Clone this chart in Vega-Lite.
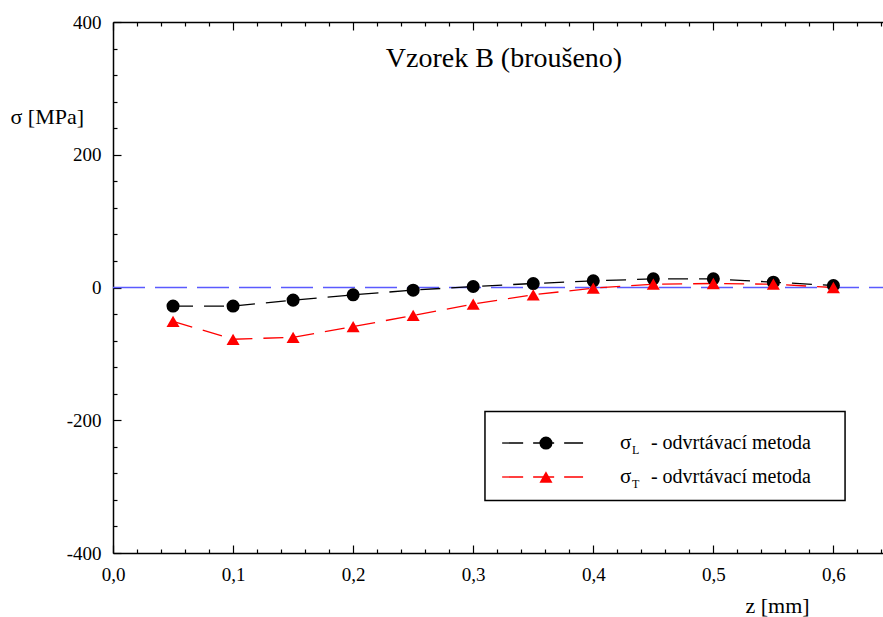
{
  "$schema": "https://vega.github.io/schema/vega-lite/v6.json",
  "width": 770,
  "height": 531,
  "autosize": {"type": "none"},
  "padding": {"left": 113, "top": 22, "right": 0, "bottom": 64},
  "background": "white",
  "config": {"view": {"stroke": null}, "font": "'Liberation Serif', 'Times New Roman', Times, serif"},
  "datasets": {
    "series": [
      {"z": 0.05, "sigma": -28, "series": "L"},
      {"z": 0.1, "sigma": -28, "series": "L"},
      {"z": 0.15, "sigma": -19, "series": "L"},
      {"z": 0.2, "sigma": -11, "series": "L"},
      {"z": 0.25, "sigma": -4, "series": "L"},
      {"z": 0.3, "sigma": 1.5, "series": "L"},
      {"z": 0.35, "sigma": 6, "series": "L"},
      {"z": 0.4, "sigma": 10, "series": "L"},
      {"z": 0.45, "sigma": 13, "series": "L"},
      {"z": 0.5, "sigma": 13, "series": "L"},
      {"z": 0.55, "sigma": 8, "series": "L"},
      {"z": 0.6, "sigma": 3, "series": "L"},
      {"z": 0.05, "sigma": -51, "series": "T"},
      {"z": 0.1, "sigma": -78, "series": "T"},
      {"z": 0.15, "sigma": -75, "series": "T"},
      {"z": 0.2, "sigma": -59, "series": "T"},
      {"z": 0.25, "sigma": -42, "series": "T"},
      {"z": 0.3, "sigma": -25, "series": "T"},
      {"z": 0.35, "sigma": -11, "series": "T"},
      {"z": 0.4, "sigma": -1, "series": "T"},
      {"z": 0.45, "sigma": 5, "series": "T"},
      {"z": 0.5, "sigma": 6, "series": "T"},
      {"z": 0.55, "sigma": 5, "series": "T"},
      {"z": 0.6, "sigma": 0, "series": "T"}
    ]
  },
  "data": {"values": [{"k": 1}]},
  "resolve": {"scale": {"x": "independent", "y": "independent"}},
  "layer": [
    {
      "mark": {"type": "rule", "color": "#5a5aff", "strokeDash": [32, 10], "strokeWidth": 1.5},
      "encoding": {
        "x": {
          "datum": 0, "type": "quantitative",
          "scale": {"domain": [0, 0.6413], "nice": false, "zero": false},
          "axis": {
            "orient": "top",
            "values": [0,0.02,0.04,0.06,0.08,0.1,0.12,0.14,0.16,0.18,0.2,0.22,0.24,0.26,0.28,0.3,0.32,0.34,0.36,0.38,0.4,0.42,0.44,0.46,0.48,0.5,0.52,0.54,0.56,0.58,0.6,0.62,0.64],
            "labels": false, "title": null, "grid": false,
            "domainColor": "black", "domainWidth": 1.5,
            "tickColor": "black", "tickWidth": 1.2,
            "tickSize": {"condition": {"test": "abs(datum.value*10-round(datum.value*10))<0.001", "value": -8}, "value": -4}
          }
        },
        "x2": {"datum": 0.6413},
        "y": {"datum": 0, "type": "quantitative", "scale": {"domain": [-400, 400], "nice": false}, "axis": null}
      }
    },
    {
      "encoding": {
        "x": {
          "type": "quantitative",
          "scale": {"domain": [0, 0.6413], "nice": false, "zero": false},
          "axis": {
            "orient": "bottom",
            "values": [0,0.02,0.04,0.06,0.08,0.1,0.12,0.14,0.16,0.18,0.2,0.22,0.24,0.26,0.28,0.3,0.32,0.34,0.36,0.38,0.4,0.42,0.44,0.46,0.48,0.5,0.52,0.54,0.56,0.58,0.6,0.62,0.64],
            "labelExpr": "abs(datum.value*10-round(datum.value*10))<0.001 ? replace(format(datum.value,'.1f'),'.',',') : ''",
            "grid": false,
            "domainColor": "black", "domainWidth": 1.5,
            "tickColor": "black", "tickWidth": 1.2,
            "tickSize": {"condition": {"test": "abs(datum.value*10-round(datum.value*10))<0.001", "value": -8}, "value": -4},
            "labelPadding": 20, "labelFont": "Liberation Serif", "labelFontSize": 19, "labelColor": "black", "labelFlush": false, "labelOverlap": false,
            "title": "z [mm]", "titleFont": "Liberation Serif", "titleFontSize": 22, "titleFontWeight": "normal", "titleColor": "black",
            "titleX": 664, "titleY": 52, "titleAlign": "center", "titleBaseline": "middle"
          }
        },
        "y": {
          "type": "quantitative",
          "scale": {"domain": [-400, 400], "nice": false},
          "axis": {
            "orient": "left",
            "values": [-400,-360,-320,-280,-240,-200,-160,-120,-80,-40,0,40,80,120,160,200,240,280,320,360,400],
            "labelExpr": "datum.value % 200 == 0 ? '' + datum.value : ''",
            "grid": false,
            "domainColor": "black", "domainWidth": 1.5,
            "tickColor": "black", "tickWidth": 1.2,
            "tickSize": {"condition": {"test": "datum.value % 200 == 0", "value": -8}, "value": -4},
            "labelPadding": 20, "labelFont": "Liberation Serif", "labelFontSize": 19, "labelColor": "black", "labelFlush": false, "labelOverlap": false,
            "title": "σ [MPa]", "titleFont": "Liberation Serif", "titleFontSize": 22, "titleFontWeight": "normal", "titleColor": "black",
            "titleAngle": 0, "titleX": -103, "titleY": 94, "titleAlign": "left", "titleBaseline": "middle"
          }
        }
      },
      "layer": [
        {
          "data": {"name": "series"},
          "mark": {"type": "line", "strokeDash": [20, 11], "strokeWidth": 1.3},
          "encoding": {
            "x": {"field": "z", "type": "quantitative"},
            "y": {"field": "sigma", "type": "quantitative"},
            "color": {"field": "series", "type": "nominal", "scale": {"domain": ["L", "T"], "range": ["black", "#ff0000"]}, "legend": null}
          }
        },
        {
          "data": {"name": "series"},
          "mark": {"type": "point", "filled": true, "opacity": 1, "size": 170},
          "encoding": {
            "x": {"field": "z", "type": "quantitative"},
            "y": {"field": "sigma", "type": "quantitative"},
            "color": {"field": "series", "type": "nominal", "scale": {"domain": ["L", "T"], "range": ["black", "#ff0000"]}, "legend": null},
            "shape": {"field": "series", "type": "nominal", "scale": {"domain": ["L", "T"], "range": ["circle", "triangle-up"]}, "legend": null}
          }
        },
        {
          "mark": {"type": "text", "text": "Vzorek B (broušeno)", "fontSize": 28, "align": "center", "baseline": "middle", "color": "black", "font": "Liberation Serif"},
          "encoding": {"x": {"datum": 0.3256}, "y": {"datum": 345}}
        },
        {
          "mark": {"type": "rect", "fill": "white", "stroke": "black", "strokeWidth": 1.5},
          "encoding": {"x": {"datum": 0.3098}, "x2": {"datum": 0.6097}, "y": {"datum": -186.7}, "y2": {"datum": -320.8}}
        },
        {
          "mark": {"type": "rule", "color": "black", "strokeDash": [21, 10], "strokeWidth": 1.3},
          "encoding": {"x": {"datum": 0.3241}, "x2": {"datum": 0.3915}, "y": {"datum": -234.3}}
        },
        {
          "mark": {"type": "rule", "color": "#ff0000", "strokeDash": [21, 10], "strokeWidth": 1.3},
          "encoding": {"x": {"datum": 0.3241}, "x2": {"datum": 0.3915}, "y": {"datum": -285.5}}
        },
        {
          "mark": {"type": "point", "shape": "circle", "filled": true, "opacity": 1, "size": 170, "color": "black"},
          "encoding": {"x": {"datum": 0.3606}, "y": {"datum": -234.3}}
        },
        {
          "mark": {"type": "point", "shape": "triangle-up", "filled": true, "opacity": 1, "size": 170, "color": "#ff0000"},
          "encoding": {"x": {"datum": 0.3606}, "y": {"datum": -285.5}}
        },
        {
          "mark": {"type": "text", "text": "σ", "fontSize": 21, "align": "left", "baseline": "middle", "color": "black", "font": "Liberation Serif"},
          "encoding": {"x": {"datum": 0.4223}, "y": {"datum": -234.3}}
        },
        {
          "mark": {"type": "text", "text": "L", "fontSize": 12, "align": "left", "baseline": "middle", "dy": 7, "color": "black", "font": "Liberation Serif"},
          "encoding": {"x": {"datum": 0.4323}, "y": {"datum": -234.3}}
        },
        {
          "mark": {"type": "text", "text": "- odvrtávací metoda", "fontSize": 20, "align": "left", "baseline": "middle", "color": "black", "font": "Liberation Serif"},
          "encoding": {"x": {"datum": 0.4480}, "y": {"datum": -234.3}}
        },
        {
          "mark": {"type": "text", "text": "σ", "fontSize": 21, "align": "left", "baseline": "middle", "color": "black", "font": "Liberation Serif"},
          "encoding": {"x": {"datum": 0.4223}, "y": {"datum": -285.5}}
        },
        {
          "mark": {"type": "text", "text": "T", "fontSize": 12, "align": "left", "baseline": "middle", "dy": 7, "color": "black", "font": "Liberation Serif"},
          "encoding": {"x": {"datum": 0.4323}, "y": {"datum": -285.5}}
        },
        {
          "mark": {"type": "text", "text": "- odvrtávací metoda", "fontSize": 20, "align": "left", "baseline": "middle", "color": "black", "font": "Liberation Serif"},
          "encoding": {"x": {"datum": 0.4480}, "y": {"datum": -285.5}}
        }
      ]
    }
  ]
}
